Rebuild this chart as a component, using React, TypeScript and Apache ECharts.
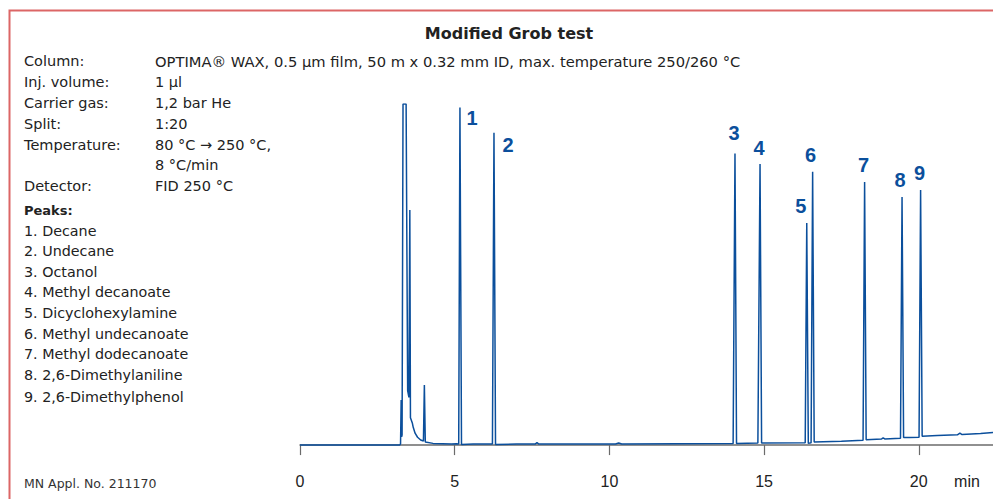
import React, { useEffect, useRef } from "react";
import * as echarts from "echarts";

// ---- data ----
const xTicks = [0, 5, 10, 15, 20];
const xUnit = "min";

// chromatogram trace: [time (min), signal]
const trace: [number, number][] = [
  [0, 0], [3.22, 0], [3.25, 0.3], [3.27, 13.2], [3.285, 2.4], [3.3, 3],
  [3.33, 100], [3.43, 100], [3.48, 16], [3.52, 14], [3.55, 68.9], [3.57, 8],
  [3.63, 6.5], [3.66, 5.2], [3.72, 3.5], [3.8, 2.3], [3.9, 1.5], [3.99, 1.2],
  [4.02, 17.6], [4.05, 0.9], [4.3, 0.5], [4.9, 0.3], [5.05, 0.4], [5.13, 0.3],
  [5.17, 99.0], [5.22, 0.2], [5.6, 0.3], [6.0, 0.3], [6.22, 0.3],
  [6.27, 91.6], [6.32, 0.2], [7.0, 0.3], [7.6, 0.3], [7.66, 0.7], [7.72, 0.3],
  [10.2, 0.3], [10.3, 0.6], [10.4, 0.3], [14.0, 0.5],
  [14.06, 85.5], [14.11, 0.5], [14.8, 0.6], [14.87, 82.4], [14.92, 0.6],
  [16.33, 0.7], [16.38, 65.1], [16.43, 0.5], [16.52, 0.7], [16.57, 80.1],
  [16.62, 0.9], [17.5, 1.1], [18.2, 1.4], [18.25, 77.1], [18.3, 1.6],
  [18.8, 1.8], [18.85, 2.1], [18.9, 1.8], [19.41, 2.0], [19.46, 72.7],
  [19.51, 2.2], [19.7, 2.2], [20.01, 2.3], [20.06, 74.8], [20.11, 2.6],
  [20.6, 2.8], [21.25, 3.0], [21.33, 3.5], [21.4, 3.1], [22.0, 3.4], [22.4, 3.7],
];

const peakLabels = ["1", "2", "3", "4", "5", "6", "7", "8", "9"];
const peakTimes = [5.17, 6.27, 14.06, 14.87, 16.38, 16.57, 18.25, 19.46, 20.06];
const peakHeights = [99.0, 91.6, 85.5, 82.4, 65.1, 80.1, 77.1, 72.7, 74.8];

const title = "Modified Grob test";
const infoKeys = ["Column:", "Inj. volume:", "Carrier gas:", "Split:", "Temperature:", "", "Detector:"];
const infoValues = [
  "OPTIMA® WAX, 0.5 µm film, 50 m x 0.32 mm ID, max. temperature 250/260 °C",
  "1 µl",
  "1,2 bar He",
  "1:20",
  "80 °C → 250 °C,",
  "8 °C/min",
  "FID 250 °C",
];
const peaksHeading = "Peaks:";
const peakNames = [
  "1. Decane",
  "2. Undecane",
  "3. Octanol",
  "4. Methyl decanoate",
  "5. Dicyclohexylamine",
  "6. Methyl undecanoate",
  "7. Methyl dodecanoate",
  "8. 2,6-Dimethylaniline",
  "9. 2,6-Dimethylphenol",
];
const footnote = "MN Appl. No. 211170";

// ---- styling ----
const BLUE = "#0b4f9c";
const TEXT = "#222222";
const INFO_FONT = "DejaVu Sans";
const labelOffsets: [number, number][] = [
  [12, 11], [14, 12], [-1, -20], [-1, -16], [-6, -17], [-2, -17], [-1, -17], [-2, -17], [-1, -17],
];
const infoY = [61, 82, 103, 124, 145, 165, 186];
const peakNameY = [231, 251, 272, 292, 313, 334, 354, 375, 397];

export default function App() {
  const ref = useRef<HTMLDivElement>(null);
  useEffect(() => {
    if (!ref.current) return;
    const chart = echarts.init(ref.current, null, { renderer: "svg" });

    const graphics: any[] = [
      {
        type: "polyline",
        shape: { points: [[9.5, 499], [9.5, 10.5], [993, 10.5]] },
        style: { stroke: "#dc6666", lineWidth: 2, fill: null },
      },
      {
        type: "text",
        x: 509,
        y: 33,
        style: {
          text: title,
          font: `bold 16px "${INFO_FONT}"`,
          fill: TEXT,
          align: "center",
          verticalAlign: "middle",
        },
      },
    ];
    infoKeys.forEach((k, i) => {
      if (k)
        graphics.push({
          type: "text",
          x: 24,
          y: infoY[i],
          style: { text: k, font: `14.5px "${INFO_FONT}"`, fill: TEXT, verticalAlign: "middle" },
        });
      graphics.push({
        type: "text",
        x: 155,
        y: infoY[i],
        style: {
          text: infoValues[i],
          font: `${i === 0 ? 14.7 : 14.5}px "${INFO_FONT}"`,
          fill: TEXT,
          verticalAlign: "middle",
        },
      });
    });
    graphics.push({
      type: "text",
      x: 24,
      y: 210,
      style: { text: peaksHeading, font: `bold 13px "${INFO_FONT}"`, fill: TEXT, verticalAlign: "middle" },
    });
    peakNames.forEach((n, i) => {
      graphics.push({
        type: "text",
        x: 24,
        y: peakNameY[i],
        style: { text: n, font: `14.3px "${INFO_FONT}"`, fill: TEXT, verticalAlign: "middle" },
      });
    });
    graphics.push({
      type: "text",
      x: 24,
      y: 483,
      style: { text: footnote, font: `12.5px "${INFO_FONT}"`, fill: "#333", verticalAlign: "middle" },
    });
    graphics.push({
      type: "text",
      x: 967,
      y: 481,
      style: {
        text: xUnit,
        font: `16px "Liberation Sans"`,
        fill: TEXT,
        align: "center",
        verticalAlign: "middle",
      },
    });

    chart.setOption({
      animation: false,
      grid: { left: 300, right: 0, top: 104, bottom: 43 },
      xAxis: {
        type: "value",
        min: 0,
        max: 22.4,
        interval: 5,
        axisLine: { show: true, lineStyle: { color: "#6b6b6b", width: 1.5 } },
        axisTick: { show: true, length: 10, lineStyle: { color: "#6b6b6b", width: 1.2 } },
        axisLabel: {
          fontFamily: "Liberation Sans",
          fontSize: 16,
          color: TEXT,
          margin: 17,
          showMaxLabel: false,
          formatter: (v: number) => (xTicks.includes(v) ? String(v) : ""),
        },
        splitLine: { show: false },
      },
      yAxis: {
        type: "value",
        min: -3.2,
        max: 100,
        show: false,
      },
      series: [
        {
          type: "line",
          data: trace,
          showSymbol: false,
          clip: true,
          lineStyle: { color: BLUE, width: 1.5 },
          silent: true,
        },
        {
          type: "scatter",
          symbolSize: 0,
          itemStyle: { color: BLUE, opacity: 1 },
          data: peakTimes.map((t, i) => ({
            value: [t, peakHeights[i]],
            label: {
              show: true,
              position: "inside",
              offset: labelOffsets[i],
              formatter: peakLabels[i],
              color: BLUE,
              opacity: 1,
              textBorderWidth: 0,
              fontFamily: "Liberation Sans",
              fontWeight: "bold",
              fontSize: 20,
            },
          })),
          label: {
            show: true,
            fontFamily: "Liberation Sans",
            fontWeight: "bold",
            fontSize: 20,
            color: BLUE,
            opacity: 1,
            textBorderWidth: 0,
            align: "center",
            verticalAlign: "middle",
          },
          silent: true,
        },
      ],
      graphic: graphics,
    });
    return () => chart.dispose();
  }, []);
  return (
    <div
      ref={ref}
      style={{ position: "fixed", left: 0, top: 0, width: 993, height: 499, background: "#fff" }}
    />
  );
}
